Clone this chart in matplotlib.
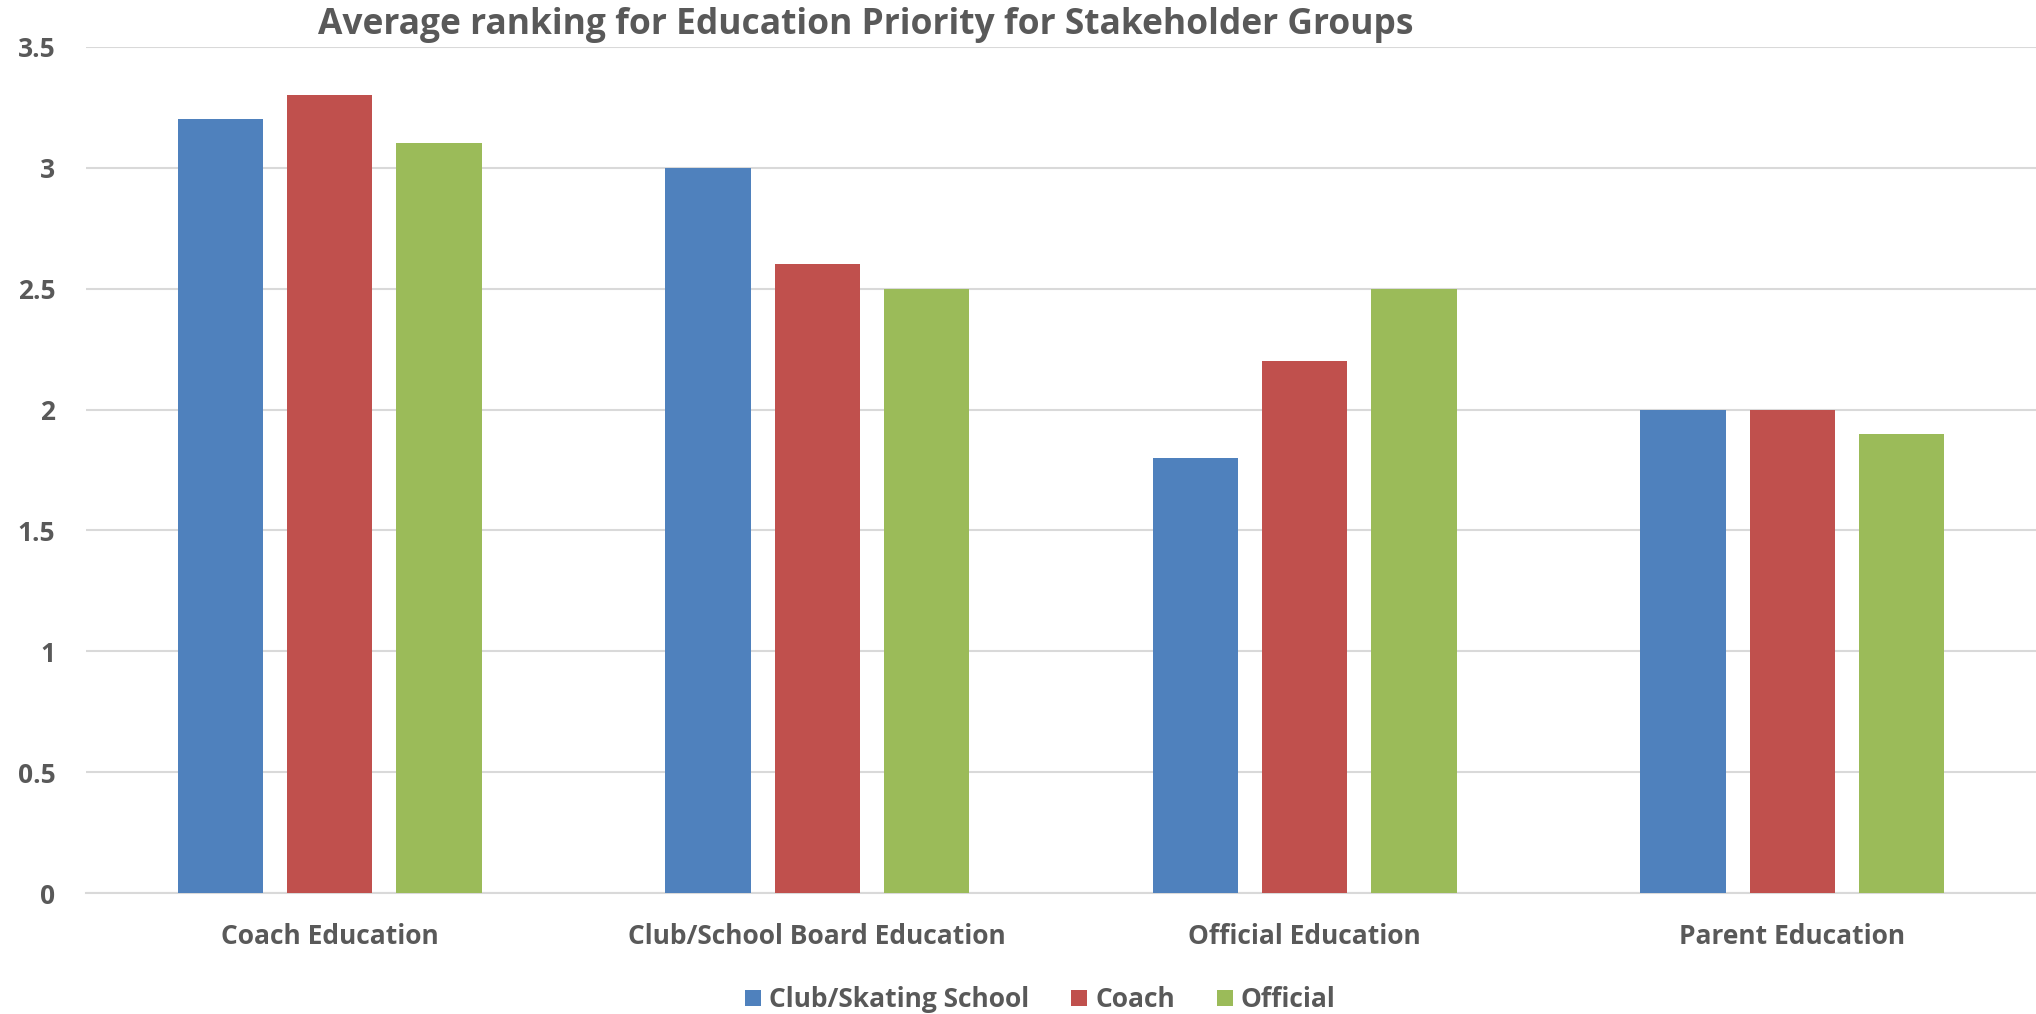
import matplotlib
matplotlib.use("Agg")
import matplotlib.pyplot as plt
import numpy as np

plt.rcParams['font.family'] = ['Open Sans', 'DejaVu Sans']
plt.rcParams['font.weight'] = 'bold'

categories = ['Coach Education', 'Club/School Board Education', 'Official Education', 'Parent Education']
series_names = ['Club/Skating School', 'Coach', 'Official']
club_skating = [3.2, 3.0, 1.8, 2.0]
coach = [3.3, 2.6, 2.2, 2.0]
official = [3.1, 2.5, 2.5, 1.9]
colors = ['#4F81BD', '#C0504D', '#9BBB59']
yticks = [0, 0.5, 1, 1.5, 2, 2.5, 3, 3.5]
ytick_labels = ['0', '0.5', '1', '1.5', '2', '2.5', '3', '3.5']

text_color = '#595959'
grid_color = '#D9D9D9'

fig = plt.figure(figsize=(20.36, 10.14), dpi=100)
ax = fig.add_axes([0.0422, 0.119, 0.9578, 0.835])

x = np.arange(len(categories))
width = 0.175
step = 0.224
for i, (vals, name, col) in enumerate(zip([club_skating, coach, official], series_names, colors)):
    ax.bar(x + (i - 1) * step, vals, width, color=col, label=name, zorder=3)

ax.set_xlim(-0.5, len(categories) - 0.5)
ax.set_ylim(0, 3.5)
ax.set_yticks(yticks)
ax.set_yticklabels(ytick_labels)
ax.set_xticks(x)
ax.set_xticklabels(categories)

ax.yaxis.grid(True, color=grid_color, linewidth=1.5, zorder=0)
ax.set_axisbelow(True)
for side in ['top', 'right', 'left']:
    ax.spines[side].set_visible(False)
ax.spines['bottom'].set_color(grid_color)
ax.spines['bottom'].set_linewidth(1.5)
ax.tick_params(axis='both', length=0, colors=text_color, labelsize=19)
ax.tick_params(axis='y', pad=22)
ax.tick_params(axis='x', pad=21)
for lbl in ax.get_xticklabels() + ax.get_yticklabels():
    lbl.set_fontweight('bold')

fig.text(0.4254, 0.975, 'Average ranking for Education Priority for Stakeholder Groups',
         ha='center', va='center', fontsize=25.5, fontweight='bold', color=text_color)

leg = fig.legend(loc='center', bbox_to_anchor=(0.511, 0.014), ncol=3, frameon=False,
                 fontsize=19, handlelength=0.6, handleheight=0.6, handletextpad=0.3,
                 columnspacing=1.6)
for t in leg.get_texts():
    t.set_color(text_color)
    t.set_fontweight('bold')

fig.savefig('out.png', dpi=100)
